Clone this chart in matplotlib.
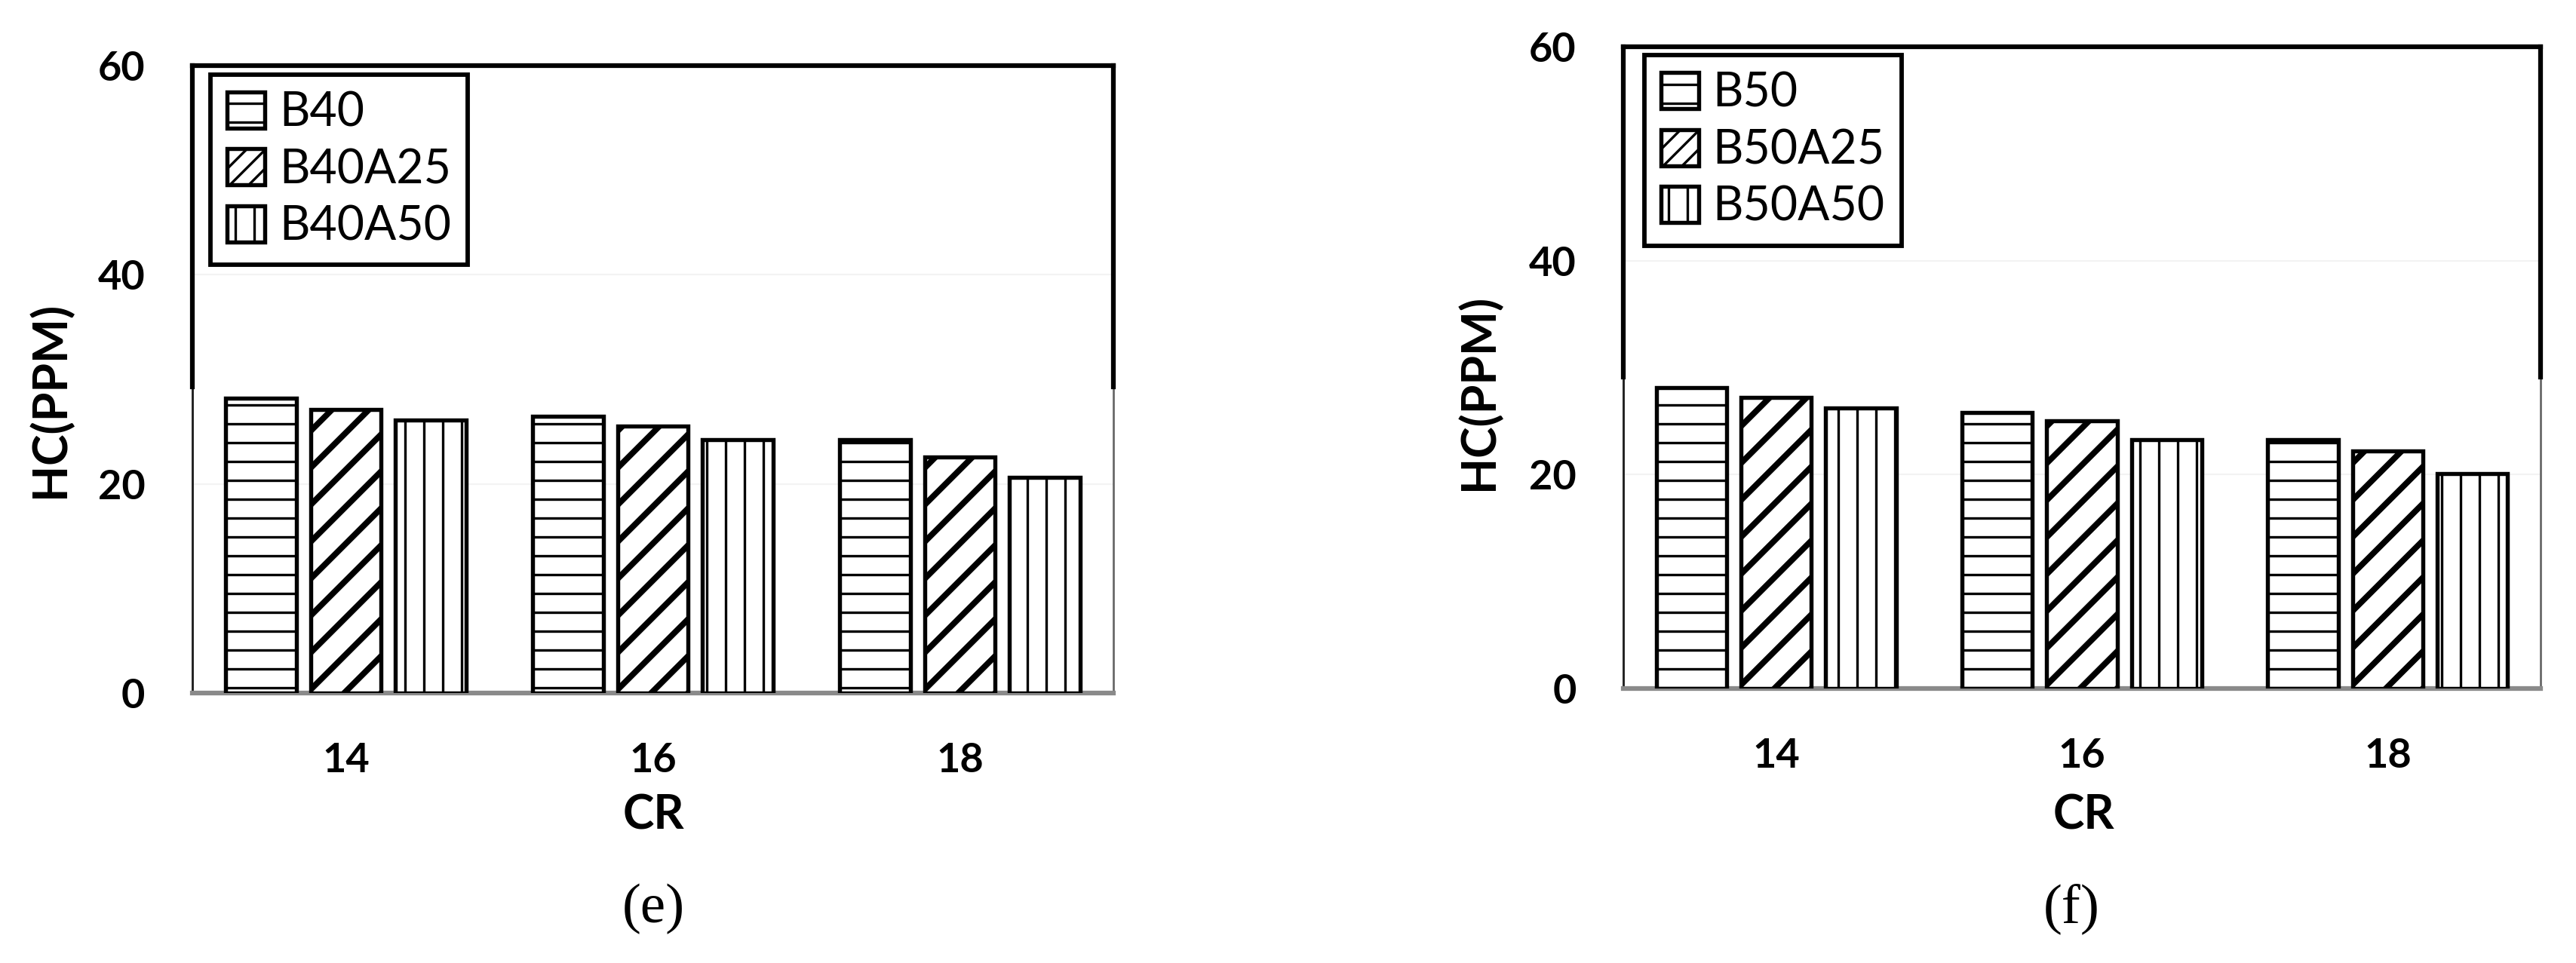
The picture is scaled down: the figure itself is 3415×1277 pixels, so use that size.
import numpy as np
import matplotlib
matplotlib.use('Agg')
import matplotlib.pyplot as plt
from matplotlib.patches import Patch
from matplotlib.collections import LineCollection
from matplotlib.transforms import IdentityTransform

# Data
cr_labels = ['14', '16', '18']
y_ticks = [0, 20, 40, 60]

left_series = ['B40', 'B40A25', 'B40A50']
b40 = [28.2, 26.5, 24.2]
b40a25 = [27.1, 25.5, 22.6]
b40a50 = [26.1, 24.2, 20.6]

right_series = ['B50', 'B50A25', 'B50A50']
b50 = [28.1, 25.8, 23.3]
b50a25 = [27.2, 25.0, 22.2]
b50a50 = [26.2, 23.3, 20.1]

DPI = 150
plt.rcParams['font.family'] = 'Lato'
plt.rcParams['hatch.linewidth'] = 1.6
plt.rcParams['hatch.color'] = 'black'

W, H = 3415, 1277
fig = plt.figure(figsize=(W / DPI, H / DPI), dpi=DPI)


def px_axes(left, top, right, bottom):
    # axes placed by pixel edges of the reference
    return fig.add_axes([left / W, 1 - bottom / H, (right - left) / W, (bottom - top) / H])


def add_diagonals(bars, step=49, lw=3.8):
    # sparse 45 degree hatching drawn in pixel space, clipped to each bar
    for b in bars:
        bb = b.get_window_extent()
        w = bb.x1 - bb.x0
        segs = []
        c = bb.y0 - w - step
        while c < bb.y1 + step:
            segs.append([(bb.x0 - 5, c - 5), (bb.x1 + 5, c + w + 5)])
            c += step
        lc = LineCollection(segs, colors='black', linewidths=lw,
                            transform=IdentityTransform(), zorder=3.5)
        b.axes.add_collection(lc, autolim=False)
        lc.set_clip_path(b)


def draw_panel(ax, series, v1, v2, v3, legend_anchor, thick_frac):
    x = np.arange(len(cr_labels))
    off = 0.277
    kw = dict(width=0.23, edgecolor='black', linewidth=2.6, facecolor='white', zorder=3)
    ax.bar(x - off, v1, hatch='-', **kw)
    bars2 = ax.bar(x, v2, **kw)
    ax.bar(x + off, v3, hatch='|', **kw)

    ax.set_xlim(-0.5, 2.5)
    ax.set_ylim(0, 60)
    ax.set_yticks(y_ticks)
    ax.set_xticks(x)
    ax.set_xticklabels(cr_labels)
    ax.tick_params(length=0, labelsize=26)
    ax.tick_params(axis='x', pad=31)
    ax.tick_params(axis='y', pad=30)
    for lab in ax.get_xticklabels() + ax.get_yticklabels():
        lab.set_fontweight('bold')

    ax.grid(axis='y', color='#f3f3f3', linewidth=1, zorder=0)
    ax.set_axisbelow(True)

    # frame: thick top and upper sides, thin lower sides, grey base line
    ax.spines['top'].set_linewidth(3)
    ax.spines['top'].set_color('black')
    ax.spines['bottom'].set_linewidth(3)
    ax.spines['bottom'].set_color('#8a8a8a')
    ax.spines['left'].set_linewidth(1.4)
    ax.spines['left'].set_color('#222222')
    ax.spines['right'].set_linewidth(1.3)
    ax.spines['right'].set_color('#666666')
    for xs in (0, 1):
        ax.plot([xs, xs], [thick_frac, 1], transform=ax.transAxes, color='black',
                lw=3, solid_capstyle='projecting', clip_on=False, zorder=4)

    add_diagonals(bars2)

    handles = [
        Patch(facecolor='white', edgecolor='black', hatch='-', linewidth=2.6),
        Patch(facecolor='white', edgecolor='black', hatch='//', linewidth=2.6),
        Patch(facecolor='white', edgecolor='black', hatch='|', linewidth=2.6),
    ]
    leg = ax.legend(handles, series, loc='upper left', bbox_to_anchor=legend_anchor,
                    borderaxespad=0, fontsize=30, frameon=True, fancybox=False,
                    handlelength=0.8, handleheight=0.8, handletextpad=0.3,
                    labelspacing=0.28, borderpad=0.35)
    frame = leg.get_frame()
    frame.set_edgecolor('black')
    frame.set_linewidth(2.8)
    frame.set_alpha(1)
    leg.set_zorder(5)


ax_e = px_axes(255, 87, 1476, 919)
draw_panel(ax_e, left_series, b40, b40a25, b40a50, (0.02, 0.986), 0.488)

ax_f = px_axes(2152, 62, 3368, 913)
draw_panel(ax_f, right_series, b50, b50a25, b50a50, (0.023, 0.987), 0.485)

# axis titles and panel letters
fig.text(866 / W, 1 - 1082 / H, 'CR', ha='center', va='center', fontsize=30, fontweight='bold')
fig.text(2762 / W, 1 - 1082 / H, 'CR', ha='center', va='center', fontsize=30, fontweight='bold')
fig.text(66 / W, 1 - 530 / H, 'HC(PPM)', ha='center', va='center', rotation=90,
         fontsize=30, fontweight='bold')
fig.text(1960 / W, 1 - 520 / H, 'HC(PPM)', ha='center', va='center', rotation=90,
         fontsize=30, fontweight='bold')
fig.text(866 / W, 1 - 1205 / H, '(e)', ha='center', va='center', fontsize=36,
         family='Liberation Serif')
fig.text(2746 / W, 1 - 1205 / H, '(f)', ha='center', va='center', fontsize=36,
         family='Liberation Serif')

fig.savefig('out.png', dpi=DPI, facecolor='white')
